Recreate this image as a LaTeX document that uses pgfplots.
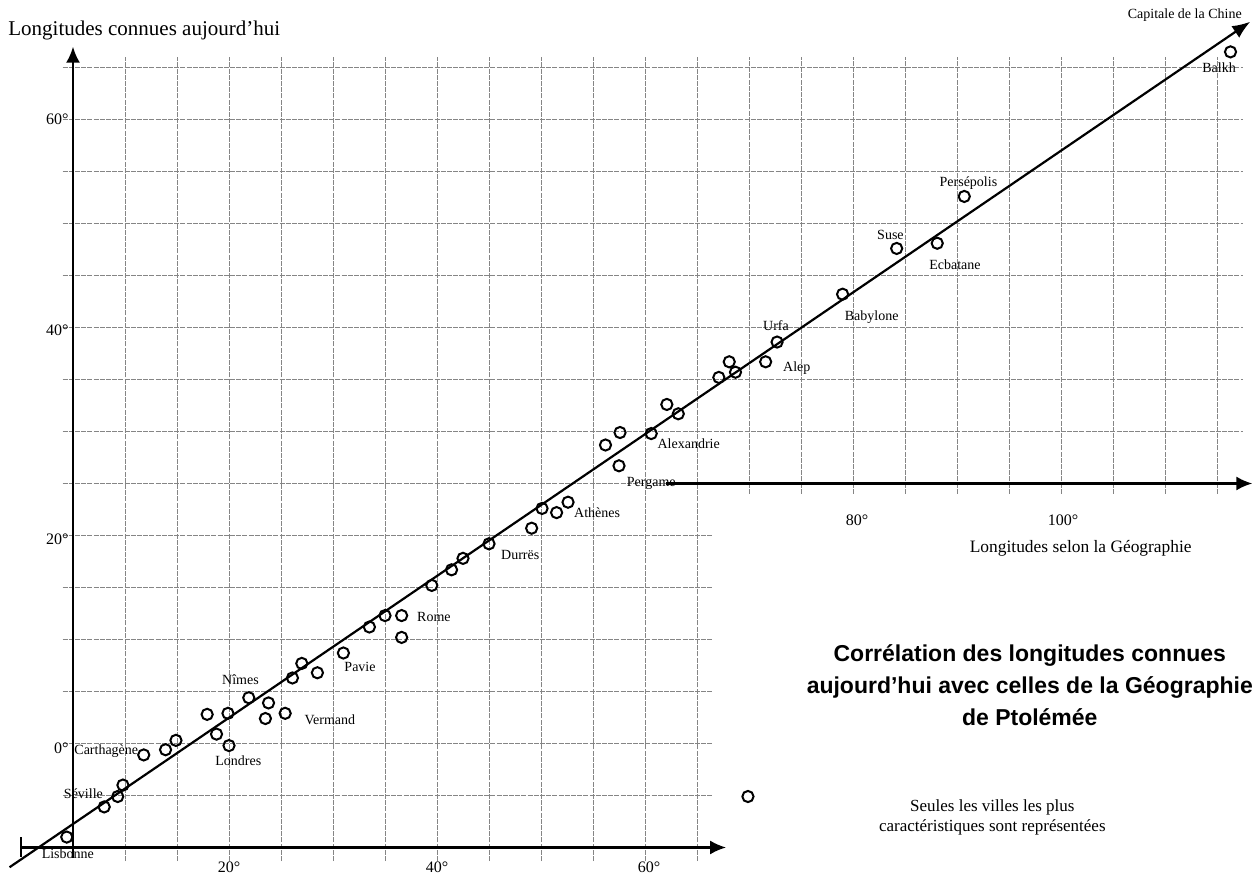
\documentclass[border=0pt]{standalone}
\usepackage{pgfplots}
\pgfplotsset{compat=1.18}
\usepackage{pgfplotstable}
\usepackage{fontspec}
\setmainfont{Liberation Serif}
\newfontfamily\titlefont{Liberation Sans}
\usetikzlibrary{arrows.meta}

% Ptolemy longitude (x) vs longitude known today (y)
\pgfplotstableread{
x y
4.4 -9.0
8.0 -6.1
9.3 -5.1
9.8 -4.0
11.8 -1.1
13.9 -0.6
14.9 0.3
17.9 2.8
19.9 2.9
18.8 0.9
20.0 -0.2
21.9 4.4
23.8 3.9
23.5 2.4
25.4 2.9
26.1 6.3
27.0 7.7
28.5 6.8
31.0 8.7
33.5 11.2
35.0 12.3
36.6 12.3
36.6 10.2
39.5 15.2
41.4 16.7
42.5 17.8
45.0 19.2
49.1 20.7
50.1 22.6
51.5 22.2
52.6 23.2
57.5 26.7
56.2 28.7
57.6 29.9
60.6 29.8
63.2 31.7
62.1 32.6
67.1 35.2
68.1 36.7
68.7 35.7
71.6 36.7
72.7 38.6
79.0 43.2
84.2 47.6
88.1 48.1
90.7 52.6
116.3 66.5
69.9 -5.1
}\cities

\pgfplotstableread{
x y
-1.1 -11.9
118.2 69.4
}\trend

\begin{document}
\begin{tikzpicture}
\begin{axis}[x=5.2pt,y=5.2pt,xmin=-2,xmax=118.5,ymin=-13,ymax=71.5,
  hide axis,clip=false]
\coordinate (BL) at (axis cs:-2.02,-13.22);
\coordinate (TR) at (axis cs:118.56,71.49);
\tikzset{gr/.style={black!48,line width=0.45pt,dash pattern=on 2.5pt off 0.6pt}}
% grid
\pgfplotsinvokeforeach{10,15,...,65}{
  \draw[gr] (axis cs:#1,-11.3) -- (axis cs:#1,66);
}
\pgfplotsinvokeforeach{70,75,...,115}{
  \draw[gr] (axis cs:#1,24) -- (axis cs:#1,66);
}
\pgfplotsinvokeforeach{-5,0,...,20}{
  \draw[gr] (axis cs:4,#1) -- (axis cs:66.5,#1);
}
\pgfplotsinvokeforeach{25,30,...,65}{
  \draw[gr] (axis cs:4,#1) -- (axis cs:117.5,#1);
}
% axes
\draw[black,line width=1.1pt,-{Latex[length=8pt,width=7pt]}] (axis cs:5,-11) -- (axis cs:5,67);
\draw[black,line width=1.1pt,-{Latex[length=8pt,width=7pt]}] (axis cs:0,-10) -- (axis cs:67.8,-10);
\draw[black,line width=0.8pt] (axis cs:0,-9) -- (axis cs:0,-10.9);
\draw[black,line width=1.1pt,-{Latex[length=8pt,width=7pt]}] (axis cs:62,25) -- (axis cs:118.4,25);
% trend line and cities
\addplot[black,line width=1.1pt,-{Latex[length=9pt,width=7pt]}] table {\trend};
\addplot[only marks,mark=o,mark size=2.8pt,mark options={black,line width=1pt}] table {\cities};
% tick labels
\tikzset{tk/.style={font=\fontsize{8}{9}\selectfont,inner sep=0pt}}
\node[tk,anchor=east] at (axis cs:4.6,-0.5) {0°};
\node[tk,anchor=east] at (axis cs:4.6,19.6) {20°};
\node[tk,anchor=east] at (axis cs:4.6,39.7) {40°};
\node[tk,anchor=east] at (axis cs:4.6,60) {60°};
\node[tk,anchor=north] at (axis cs:20,-11.3) {20°};
\node[tk,anchor=north] at (axis cs:40,-11.3) {40°};
\node[tk,anchor=north] at (axis cs:60.4,-11.3) {60°};
\node[tk] at (axis cs:80.4,21.5) {80°};
\node[tk] at (axis cs:100.2,21.5) {100°};
% axis titles
\node[anchor=west,inner sep=0pt,font=\fontsize{10.5}{12}\selectfont] at (axis cs:-1.25,68.6) {Longitudes connues aujourd’hui};
\node[inner sep=0pt,font=\fontsize{8.7}{10}\selectfont] at (axis cs:101.9,18.8) {Longitudes selon la Géographie};
% city labels
\tikzset{ct/.style={font=\fontsize{7}{8}\selectfont,inner sep=0pt}}
\node[ct] at (axis cs:4.5,-10.6) {Lisbonne};
\node[ct] at (axis cs:6.0,-4.8) {Séville};
\node[ct] at (axis cs:8.2,-0.7) {Carthagène};
\node[ct] at (axis cs:20.9,-1.7) {Londres};
\node[ct] at (axis cs:21.1,6.1) {Nîmes};
\node[ct] at (axis cs:29.7,2.3) {Vermand};
\node[ct] at (axis cs:32.6,7.4) {Pavie};
\node[ct] at (axis cs:39.7,12.2) {Rome};
\node[ct] at (axis cs:48.0,18.1) {Durrës};
\node[ct] at (axis cs:55.4,22.2) {Athènes};
\node[ct] at (axis cs:60.6,25.0) {Pergame};
\node[ct] at (axis cs:64.2,28.8) {Alexandrie};
\node[ct] at (axis cs:72.6,40.2) {Urfa};
\node[ct] at (axis cs:74.6,36.1) {Alep};
\node[ct] at (axis cs:81.8,41.0) {Babylone};
\node[ct] at (axis cs:83.6,48.9) {Suse};
\node[ct] at (axis cs:91.1,53.9) {Persépolis};
\node[ct] at (axis cs:89.8,46.0) {Ecbatane};
\node[ct] at (axis cs:115.2,65.0) {Balkh};
\node[ct] at (axis cs:111.9,70.0) {Capitale de la Chine};
% title and note
\node[align=center,inner sep=0pt,font=\titlefont\bfseries\fontsize{11.5}{16}\selectfont] at (axis cs:97.0,5.6)
  {Corrélation des longitudes connues\\aujourd’hui avec celles de la Géographie\\de Ptolémée};
\node[align=center,inner sep=0pt,font=\fontsize{8.5}{10}\selectfont] at (axis cs:93.4,-7.1)
  {Seules les villes les plus\\caractéristiques sont représentées};
\end{axis}
\pgfresetboundingbox
\path[use as bounding box] (BL) rectangle (TR);
\end{tikzpicture}
\end{document}
